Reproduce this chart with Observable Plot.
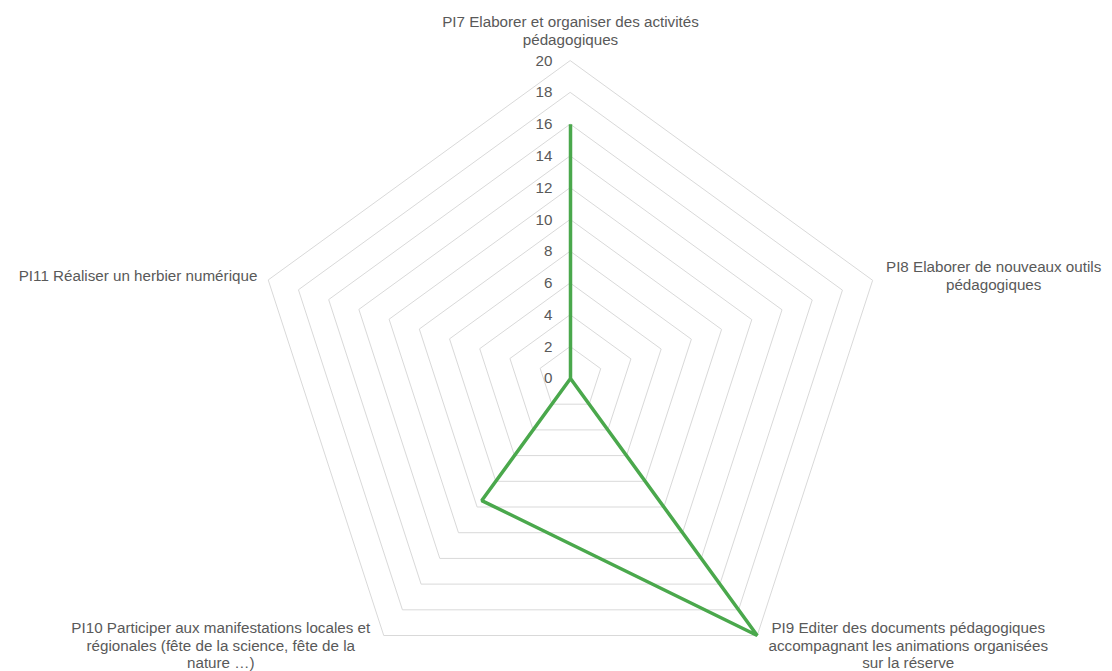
<!DOCTYPE html>
<html>
<head>
<meta charset="utf-8">
<script src="https://cdn.jsdelivr.net/npm/d3@7"></script>
<script src="https://cdn.jsdelivr.net/npm/@observablehq/plot@0.6"></script>
<style>
  html, body { margin: 0; padding: 0; background: #ffffff; }
  #chart { width: 1112px; height: 671px; }
  svg { font-family: "Liberation Sans", Arial, sans-serif; }
</style>
</head>
<body>
<div id="chart"></div>
<script>
const categories = [
  "PI7 Elaborer et organiser des activités\npédagogiques",
  "PI8 Elaborer de nouveaux outils\npédagogiques",
  "PI9 Editer des documents pédagogiques\naccompagnant les animations organisées\nsur la réserve",
  "PI10 Participer aux manifestations locales et\nrégionales (fête de la science, fête de la\nnature …)",
  "PI11 Réaliser un herbier numérique"
];
const values = [16, 0, 20, 9.5, 0];
const tickValues = [0, 2, 4, 6, 8, 10, 12, 14, 16, 18, 20];
const maxValue = 20;

const n = categories.length;
const angle = i => (2 * Math.PI * i) / n;
const px = (r, i) => r * Math.sin(angle(i));
const py = (r, i) => r * Math.cos(angle(i));

// grid rings
const gridData = [];
tickValues.filter(t => t > 0).forEach(t => {
  categories.forEach((c, i) => gridData.push({level: t, x: px(t, i), y: py(t, i)}));
});

const seriesData = categories.map((c, i) => ({cat: c, x: px(values[i], i), y: py(values[i], i)}));
const tickData = tickValues.map(t => ({t, x: 0, y: t}));

// pixel scale: radius 20 -> ~317.7px, center at (570, 378)
const W = 1112, H = 671, cx = 570, cy = 378;
const s = 317.7 / maxValue;

const font = "Liberation Sans, Arial, sans-serif";
const labelOffsets = [
  {dx: 0, dy: -30.5, anchor: "middle"},
  {dx: 121, dy: -5, anchor: "middle"},
  {dx: 151, dy: 9.5, anchor: "middle"},
  {dx: -163, dy: 9.5, anchor: "middle"},
  {dx: -11, dy: -5, anchor: "end"}
];

const labelMarks = categories.map((c, i) => Plot.text([{label: c, x: px(maxValue, i), y: py(maxValue, i)}], {
  x: "x", y: "y", text: "label",
  dx: labelOffsets[i].dx, dy: labelOffsets[i].dy,
  textAnchor: labelOffsets[i].anchor, lineAnchor: "middle", lineHeight: 1.15,
  fill: "#595959", fontSize: 15.2, fontFamily: font
}));

const chart = Plot.plot({
  width: W,
  height: H,
  margin: 0,
  style: {background: "#ffffff", fontFamily: font},
  x: {domain: [-cx / s, (W - cx) / s], axis: null},
  y: {domain: [-(H - cy) / s, cy / s], axis: null},
  marks: [
    Plot.line(gridData, {x: "x", y: "y", z: "level", curve: "linear-closed", stroke: "#d9d9d9", strokeWidth: 1}),
    Plot.text(tickData, {x: "x", y: "y", text: d => String(d.t), dx: -18, textAnchor: "end", fill: "#595959", fontSize: 15.2, fontFamily: font}),
    Plot.line(seriesData, {x: "x", y: "y", curve: "linear-closed", stroke: "#4aa84c", strokeWidth: 3.5, strokeLinejoin: "miter"}),
    ...labelMarks
  ]
});

document.getElementById("chart").appendChild(chart);
</script>
</body>
</html>
